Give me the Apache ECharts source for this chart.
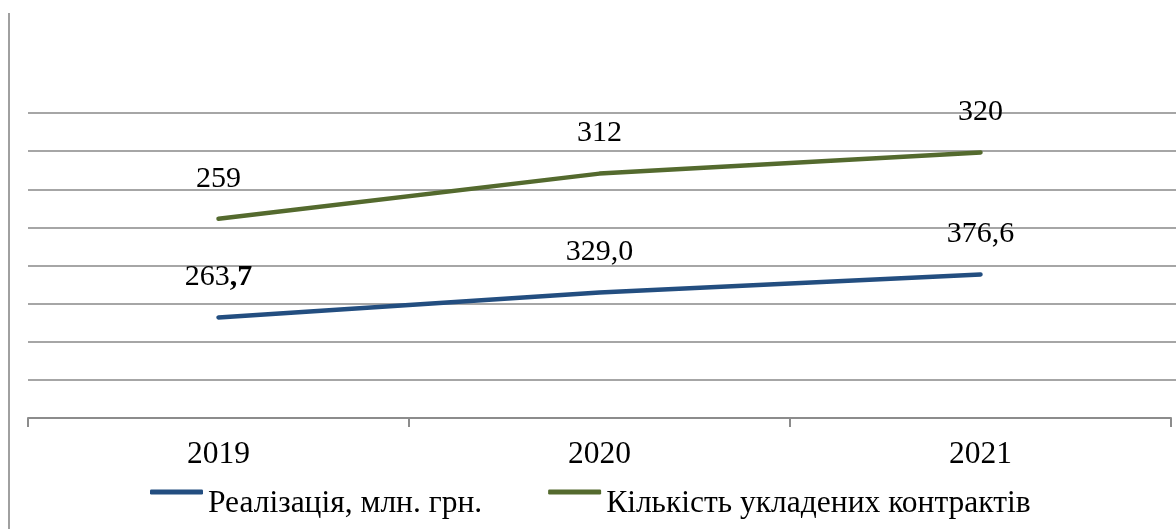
<!DOCTYPE html>
<html><head><meta charset="utf-8">
<script src="https://cdn.jsdelivr.net/npm/echarts@6/dist/echarts.min.js"></script>
<style>html,body{margin:0;padding:0;background:#fff}#c{width:1176px;height:529px}</style>
</head><body><div id="c"></div>
<script>
const categories = ['2019', '2020', '2021'];
const salesValues = [263.7, 329.0, 376.6];
const contractValues = [259, 312, 320];
const seriesNames = ['Реалізація, млн. грн.', 'Кількість укладених контрактів'];
const yMin = 0, yMax = 800, yStep = 100;

const FONT = "'Liberation Serif','Times New Roman',serif";
const chart = echarts.init(document.getElementById('c'), null, {renderer: 'canvas'});

function fmtSales(p) {
  const s = p.data.toFixed(1).split('.');
  if (p.dataIndex === 0) return s[0] + '{b|,' + s[1] + '}';
  return s[0] + ',' + s[1];
}

const labelBase = {
  show: true, position: 'top', distance: 25,
  fontFamily: FONT, fontSize: 30, color: '#000'
};

chart.setOption({
  animation: false,
  backgroundColor: '#fff',
  textStyle: {fontFamily: FONT},
  grid: [
    {left: 28, right: 5, top: 113, bottom: 111},
    {left: 28, right: 0, top: 113, bottom: 149}
  ],
  xAxis: [
    {type: 'category', data: categories, gridIndex: 0, boundaryGap: true,
     axisLine: {lineStyle: {color: '#8c8c8c', width: 2}},
     axisTick: {show: true, length: 9, lineStyle: {color: '#8c8c8c', width: 2}},
     axisLabel: {fontFamily: FONT, fontSize: 31.5, color: '#000', margin: 21},
     splitLine: {show: false}},
    {type: 'category', data: categories, gridIndex: 1, show: false}
  ],
  yAxis: [
    {type: 'value', gridIndex: 0, min: yMin, max: yMax, interval: yStep,
     axisLine: {show: false}, axisTick: {show: false}, axisLabel: {show: false},
     splitLine: {show: false}},
    {type: 'value', gridIndex: 1, min: yMin + yStep, max: yMax, interval: yStep,
     axisLine: {show: false}, axisTick: {show: false}, axisLabel: {show: false},
     splitLine: {show: true, lineStyle: {color: '#a6a6a6', width: 2}}}
  ],
  legend: {
    top: 488, left: 150, padding: 0, itemWidth: 53, itemHeight: 5, itemGap: 66,
    icon: 'roundRect',
    formatter: name => '{t|' + name + '}',
    textStyle: {fontFamily: FONT, fontSize: 31.5, color: '#000',
      rich: {t: {fontFamily: FONT, fontSize: 31.5, color: '#000', padding: [24, 0, 0, 0]}}},
    data: seriesNames
  },
  graphic: [{
    type: 'line', shape: {x1: 9, y1: 13, x2: 9, y2: 529},
    style: {stroke: '#a0a0a0', lineWidth: 2}
  }],
  series: [
    {name: seriesNames[0], type: 'line', stack: 'total', data: salesValues,
     xAxisIndex: 0, yAxisIndex: 0,
     symbol: 'circle', symbolSize: 0.1, showSymbol: true,
     lineStyle: {color: '#234e80', width: 4.5, cap: 'round'},
     itemStyle: {color: '#234e80'},
     label: Object.assign({}, labelBase, {formatter: fmtSales,
       rich: {b: {fontFamily: FONT, fontSize: 30, fontWeight: 'bold', color: '#000'}}})},
    {name: seriesNames[1], type: 'line', stack: 'total', data: contractValues,
     xAxisIndex: 0, yAxisIndex: 0,
     symbol: 'circle', symbolSize: 0.1, showSymbol: true,
     lineStyle: {color: '#546a2e', width: 4.5, cap: 'round'},
     itemStyle: {color: '#546a2e'},
     label: Object.assign({}, labelBase, {formatter: p => String(p.data)})}
  ]
});
</script></body></html>
